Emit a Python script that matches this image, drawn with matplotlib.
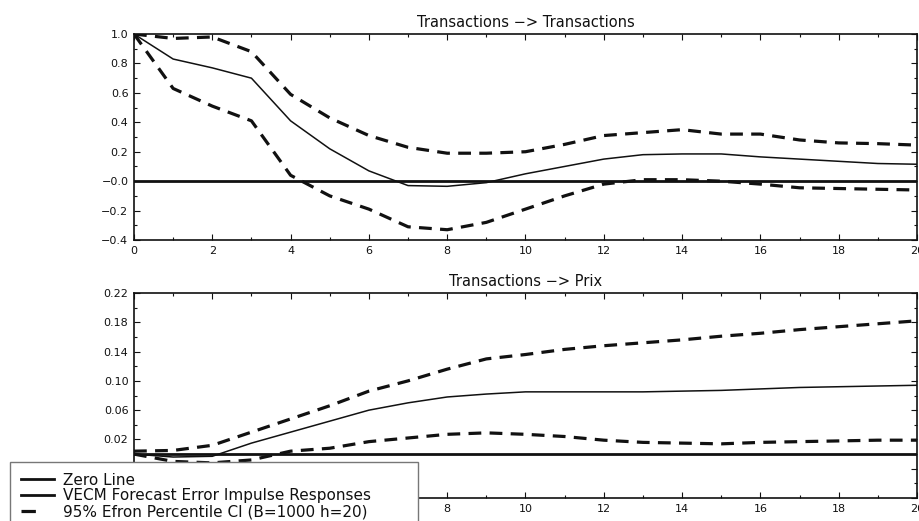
"""Réponses impulsionnelles VECM : Transactions -> Transactions / Prix."""
import matplotlib
matplotlib.use("Agg")
import matplotlib.pyplot as plt
from matplotlib.lines import Line2D
from matplotlib.ticker import MultipleLocator

HORIZON = list(range(21))

# Transactions -> Transactions
TT_IRF = [1.0, 0.83, 0.77, 0.70, 0.41, 0.22, 0.07, -0.03, -0.035, -0.01, 0.05,
          0.10, 0.15, 0.18, 0.185, 0.185, 0.165, 0.15, 0.135, 0.12, 0.115]
TT_UPPER = [1.0, 0.97, 0.98, 0.88, 0.59, 0.43, 0.31, 0.23, 0.19, 0.19, 0.20,
            0.25, 0.31, 0.33, 0.35, 0.32, 0.32, 0.28, 0.26, 0.255, 0.245]
TT_LOWER = [1.0, 0.63, 0.51, 0.41, 0.04, -0.10, -0.19, -0.31, -0.33, -0.28, -0.19,
            -0.10, -0.02, 0.01, 0.01, 0.0, -0.02, -0.045, -0.05, -0.055, -0.06]

# Transactions -> Prix
TP_IRF = [0.0, -0.004, -0.003, 0.015, 0.030, 0.045, 0.060, 0.070, 0.078, 0.082, 0.085,
          0.085, 0.085, 0.085, 0.086, 0.087, 0.089, 0.091, 0.092, 0.093, 0.094]
TP_UPPER = [0.004, 0.005, 0.012, 0.030, 0.048, 0.066, 0.086, 0.100, 0.116, 0.130, 0.136,
            0.143, 0.148, 0.152, 0.156, 0.161, 0.165, 0.170, 0.174, 0.178, 0.182]
TP_LOWER = [0.0, -0.010, -0.012, -0.008, 0.004, 0.008, 0.017, 0.022, 0.027, 0.029, 0.027,
            0.024, 0.019, 0.016, 0.015, 0.014, 0.016, 0.017, 0.018, 0.019, 0.019]

TT_YTICKS = [-0.4, -0.2, 0.0, 0.2, 0.4, 0.6, 0.8, 1.0]
TT_YLABELS = ["\u22120.4", "\u22120.2", "\u22120.0", "0.2", "0.4", "0.6", "0.8", "1.0"]
# les graduations basses du second panneau restent sous la légende
TP_YTICKS = [-0.06, -0.02, 0.02, 0.06, 0.10, 0.14, 0.18, 0.22]
TP_YLABELS = ["", "", "0.02", "0.06", "0.10", "0.14", "0.18", "0.22"]
TP_XLABELS = ["", "", "", "", "8", "10", "12", "14", "16", "18", "20"]

TITLES = ["Transactions \u2212> Transactions", "Transactions \u2212> Prix"]
LEGEND_LABELS = ["Zero Line", "VECM Forecast Error Impulse Responses",
                 "95% Efron Percentile CI (B=1000 h=20)"]

plt.rcParams["font.family"] = "DejaVu Sans"
INK = "#111111"
DASH = (0, (4, 2.6))


def draw_panel(ax, irf, upper, lower, yticks, ylabels, ylim, yminor, title):
    """Trace une réponse impulsionnelle avec son intervalle de confiance"""
    ax.axhline(0, color=INK, lw=2.0, zorder=2)
    ax.plot(HORIZON, irf, color=INK, lw=1.1, zorder=3)
    ax.plot(HORIZON, upper, color=INK, lw=2.3, linestyle=DASH, zorder=3)
    ax.plot(HORIZON, lower, color=INK, lw=2.3, linestyle=DASH, zorder=3)
    ax.set_xlim(0, 20)
    ax.set_ylim(*ylim)
    ax.xaxis.set_major_locator(MultipleLocator(2))
    ax.xaxis.set_minor_locator(MultipleLocator(1))
    ax.set_yticks(yticks)
    ax.set_yticklabels(ylabels)
    ax.yaxis.set_minor_locator(MultipleLocator(yminor))
    ax.tick_params(which="both", direction="in", top=True, right=True,
                   labelsize=8, colors=INK, width=0.8)
    ax.tick_params(which="major", length=4, pad=4)
    ax.tick_params(which="minor", length=2)
    for s in ax.spines.values():
        s.set_linewidth(1.2)
        s.set_color(INK)
    ax.set_title(title, fontsize=10.5, color=INK, pad=5)


fig = plt.figure(figsize=(9.19, 5.21), dpi=100)
ax1 = fig.add_axes([0.1458, 0.5393, 0.852, 0.3954])
ax2 = fig.add_axes([0.1458, 0.0441, 0.852, 0.3935])

draw_panel(ax1, TT_IRF, TT_UPPER, TT_LOWER, TT_YTICKS, TT_YLABELS,
           (-0.4, 1.0), 0.1, TITLES[0])
draw_panel(ax2, TP_IRF, TP_UPPER, TP_LOWER, TP_YTICKS, TP_YLABELS,
           (-0.06, 0.22), 0.02, TITLES[1])
ax2.set_xticks(range(0, 21, 2))
ax2.set_xticklabels(TP_XLABELS)

handles = [
    Line2D([], [], color=INK, lw=2.0),
    Line2D([], [], color=INK, lw=2.0),
    Line2D([], [], color=INK, lw=2.3, linestyle=(0, (4.5, 30))),
]
leg = fig.legend(handles, LEGEND_LABELS, loc="upper left", mode="expand",
                 bbox_to_anchor=(10 / 919, 1 - 462 / 521, 408 / 919, 0),
                 fontsize=11, frameon=True, fancybox=False, framealpha=1.0,
                 handlelength=2.2, handletextpad=0.6, labelspacing=0.05,
                 borderpad=0.7, borderaxespad=0)
leg.get_frame().set_edgecolor("#777777")
leg.get_frame().set_linewidth(1.0)
leg.set_zorder(10)
for t in leg.get_texts():
    t.set_color(INK)

fig.savefig("out.png", dpi=100)
